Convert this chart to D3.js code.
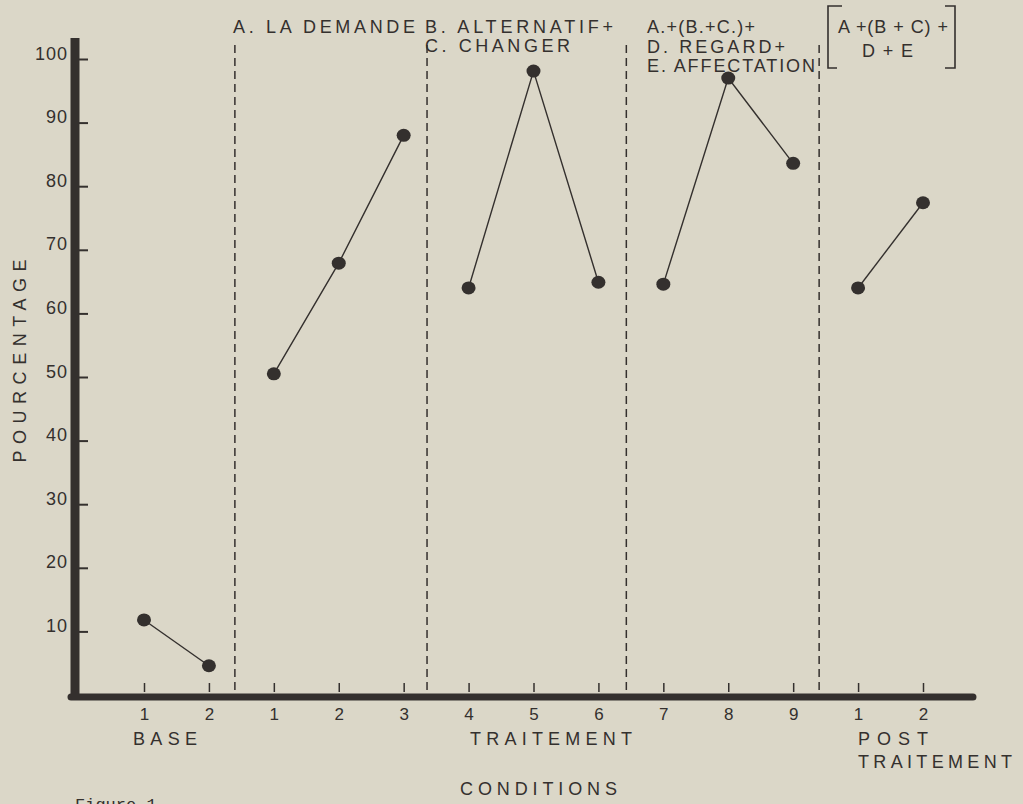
<!DOCTYPE html>
<html>
<head>
<meta charset="utf-8">
<script src="https://cdn.jsdelivr.net/npm/d3@7"></script>
<style>
  body { margin: 0; background: #dbd7c8; }
  svg { display: block; }
  text { font-family: "Liberation Sans", Arial, sans-serif; fill: #34302e; }
</style>
</head>
<body>
<svg id="chart" width="1023" height="804"></svg>
<script>
// sessions along the x axis (label under each tick)
const sessionLabels = ['1', '2', '1', '2', '3', '4', '5', '6', '7', '8', '9', '1', '2'];
// phase index of each session (points are joined only inside a phase)
const sessionPhase = [0, 0, 1, 1, 1, 2, 2, 2, 3, 3, 3, 4, 4];
// percentage per session
const values = [11.8, 4.6, 50.5, 67.9, 88, 64, 98.1, 64.9, 64.6, 97, 83.6, 64, 77.4];
// dashed separators between phases (in session units)
const dividers = [1.4, 4.36, 7.43, 10.4];
const yTicks = [10, 20, 30, 40, 50, 60, 70, 80, 90, 100];

const ink = '#34302e';
const svg = d3.select('#chart');

// Create scales
const x = d3.scaleLinear().domain([0, 12]).range([144, 923]);
const y = d3.scaleLinear().domain([0, 100]).range([695, 59]);

// Dashed phase separators
svg.selectAll('.divider')
  .data(dividers)
  .enter()
  .append('line')
  .attr('class', 'divider')
  .attr('x1', d => x(d)).attr('x2', d => x(d))
  .attr('y1', 45).attr('y2', 692)
  .attr('stroke', ink)
  .attr('stroke-width', 1.5)
  .attr('stroke-dasharray', '8,5');

// Y axis: labels from axisLeft, ticks drawn to the right of the thick line
const yAxis = svg.append('g')
  .attr('transform', 'translate(75,0)')
  .call(d3.axisLeft(y).tickValues(yTicks).tickSize(0).tickPadding(7));
yAxis.select('.domain').remove();
yAxis.selectAll('.tick text')
  .attr('dy', 0)
  .attr('font-size', 18)
  .attr('letter-spacing', 1)
  .attr('fill', ink)
  .attr('font-family', '"Liberation Sans", Arial, sans-serif');
yAxis.selectAll('.tick')
  .append('line')
  .attr('x1', 0).attr('x2', 13)
  .attr('stroke', ink)
  .attr('stroke-width', 2);

// X axis: ticks above the line, session numbers below
const xAxis = svg.append('g')
  .attr('transform', 'translate(0,697)')
  .call(d3.axisBottom(x)
    .tickValues(d3.range(sessionLabels.length))
    .tickFormat(i => sessionLabels[i])
    .tickSize(0)
    .tickPadding(11));
xAxis.select('.domain').remove();
xAxis.selectAll('.tick text')
  .attr('font-size', 17)
  .attr('fill', ink)
  .attr('font-family', '"Liberation Sans", Arial, sans-serif');
xAxis.selectAll('.tick')
  .append('line')
  .attr('y1', -14).attr('y2', -5)
  .attr('stroke', ink)
  .attr('stroke-width', 1.5);

// Thick axis lines
svg.append('line')
  .attr('x1', 75).attr('x2', 75)
  .attr('y1', 38).attr('y2', 697)
  .attr('stroke', ink)
  .attr('stroke-width', 9);
svg.append('line')
  .attr('x1', 71).attr('x2', x(12.77))
  .attr('y1', 697).attr('y2', 697)
  .attr('stroke', ink)
  .attr('stroke-width', 7)
  .attr('stroke-linecap', 'round');

// Lines within each phase
const line = d3.line()
  .x(d => x(d.i))
  .y(d => y(d.v));
const points = values.map((v, i) => ({ i, v, phase: sessionPhase[i] }));
const byPhase = d3.groups(points, d => d.phase).map(g => g[1]);

svg.selectAll('.phase-line')
  .data(byPhase)
  .enter()
  .append('path')
  .attr('class', 'phase-line')
  .attr('fill', 'none')
  .attr('stroke', ink)
  .attr('stroke-width', 1.4)
  .attr('d', line);

// Points
svg.selectAll('.dot')
  .data(points)
  .enter()
  .append('ellipse')
  .attr('class', 'dot')
  .attr('cx', d => x(d.i))
  .attr('cy', d => y(d.v))
  .attr('rx', 7)
  .attr('ry', 6.5)
  .attr('fill', ink);

// Phase headings and axis titles
const labels = [
  { t: 'A. LA DEMANDE', x: 233, y: 33, w: 182 },
  { t: 'B. ALTERNATIF+', x: 425, y: 33, w: 188 },
  { t: 'C. CHANGER', x: 425, y: 52, w: 145 },
  { t: 'A.+(B.+C.)+', x: 647, y: 33, w: 108 },
  { t: 'D. REGARD+', x: 647, y: 53, w: 138 },
  { t: 'E. AFFECTATION', x: 647, y: 72, w: 168 },
  { t: 'A +(B + C) +', x: 838, y: 33, w: 110 },
  { t: 'D + E', x: 862, y: 57, w: 51 },
  { t: 'BASE', x: 133, y: 745, w: 64 },
  { t: 'TRAITEMENT', x: 470, y: 745, w: 162 },
  { t: 'POST', x: 858, y: 745, w: 70 },
  { t: 'TRAITEMENT', x: 858, y: 768, w: 154 },
  { t: 'CONDITIONS', x: 460, y: 795, w: 157 }
];
svg.selectAll('.lbl')
  .data(labels)
  .enter()
  .append('text')
  .attr('class', 'lbl')
  .attr('x', d => d.x)
  .attr('y', d => d.y)
  .attr('font-size', 18)
  .attr('textLength', d => d.w)
  .attr('lengthAdjust', 'spacing')
  .text(d => d.t);

svg.append('text')
  .attr('transform', 'translate(26,361) rotate(-90)')
  .attr('text-anchor', 'middle')
  .attr('font-size', 18)
  .attr('textLength', 203)
  .attr('lengthAdjust', 'spacing')
  .text('POURCENTAGE');

svg.append('text')
  .attr('x', 75)
  .attr('y', 810)
  .attr('font-size', 17)
  .style('font-family', '"Liberation Mono", monospace')
  .text('Figure 1');

// Bracket around the post-treatment heading
const bracket = svg.append('g')
  .attr('fill', 'none')
  .attr('stroke', ink)
  .attr('stroke-width', 1.6);
bracket.append('path').attr('d', 'M842,6 H828 V68 H837');
bracket.append('path').attr('d', 'M945,6 H955 V68 H945');
</script>
</body>
</html>
